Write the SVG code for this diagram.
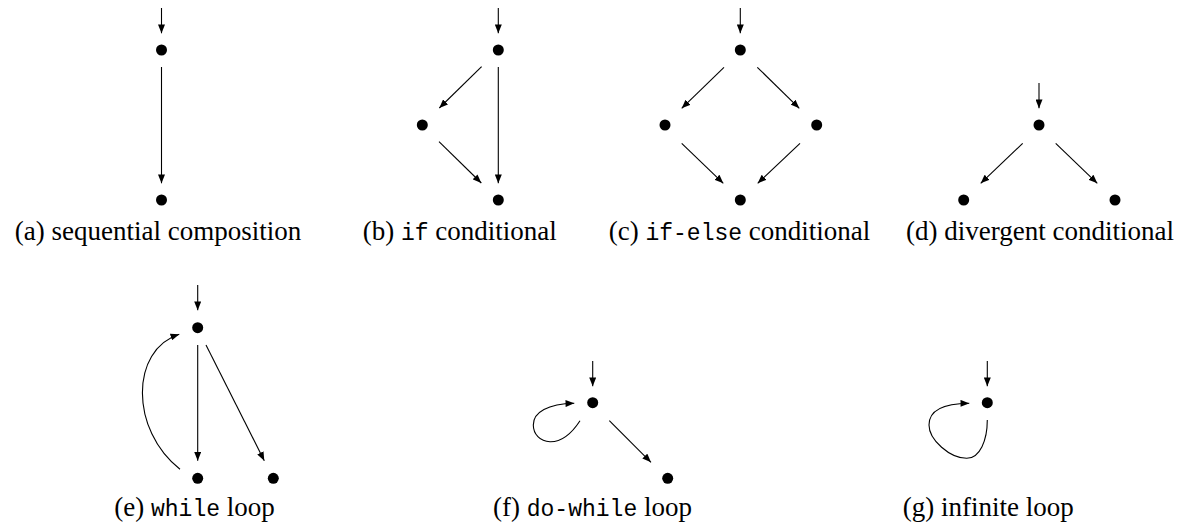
<svg xmlns="http://www.w3.org/2000/svg" width="1190" height="526" viewBox="0 0 1190 526">
<style>
.n{fill:#000}
.e{stroke:#000;stroke-width:1.1;fill:none;marker-end:url(#ah)}
text{font-family:'Liberation Serif','Times New Roman',serif;font-size:27px;fill:#000}
tspan.tt{font-family:'Liberation Mono','Courier New',monospace;font-size:23px}
</style>
<defs>
<marker id="ah" viewBox="0 0 10 8" refX="10" refY="4" markerWidth="9" markerHeight="7" markerUnits="userSpaceOnUse" orient="auto">
<path d="M0,0 L10,4 L0,8 Z" fill="#000"/>
</marker>
</defs>
<rect width="1190" height="526" fill="#fff"/>
<g id="connectors">
<line class="e" x1="161.5" y1="8" x2="161.5" y2="33.3"/>
<line class="e" x1="161.5" y1="67" x2="161.5" y2="183.3"/>
<line class="e" x1="498.3" y1="8" x2="498.3" y2="33.3"/>
<line class="e" x1="481.6" y1="66.7" x2="439.3" y2="108"/>
<line class="e" x1="439" y1="141.7" x2="481.3" y2="183"/>
<line class="e" x1="498.3" y1="67" x2="498.3" y2="183.3"/>
<line class="e" x1="740.3" y1="8" x2="740.3" y2="33.3"/>
<line class="e" x1="724" y1="67.3" x2="681.7" y2="108.3"/>
<line class="e" x1="757.3" y1="67.3" x2="799.3" y2="108.3"/>
<line class="e" x1="681.7" y1="143.3" x2="723.3" y2="183.3"/>
<line class="e" x1="800" y1="143.3" x2="757.7" y2="183.3"/>
<line class="e" x1="1039" y1="83" x2="1039" y2="108.3"/>
<line class="e" x1="1022.7" y1="143.3" x2="980.7" y2="183.3"/>
<line class="e" x1="1055.7" y1="143.3" x2="1097.3" y2="183.3"/>
<line class="e" x1="197.7" y1="285" x2="197.7" y2="310.3"/>
<line class="e" x1="197.7" y1="345" x2="197.7" y2="460.7"/>
<line class="e" x1="206" y1="345" x2="264.3" y2="460.7"/>
<path class="e" d="M180,469.3 C130,430 130,350 179.3,334.3"/>
<line class="e" x1="592.7" y1="361" x2="592.7" y2="386.3"/>
<line class="e" x1="609.3" y1="420.7" x2="651" y2="462.3"/>
<path class="e" d="M580,420.7 C572,433 562,442 550,441.7 C540,441.5 533.3,434 533.3,425 C533.3,412 548,404 574.3,403.3"/>
<line class="e" x1="987.3" y1="361" x2="987.3" y2="386.3"/>
<path class="e" d="M987.3,420 C987.3,440 980,458.3 966.7,458.3 C950,458.3 929,440 929,425 C929,410 945,403.5 969.3,403.3"/>
</g>
<g id="a">
<circle class="n" cx="161.5" cy="50" r="5.5"/>
<circle class="n" cx="161.5" cy="200" r="5.5"/>
<text x="158" y="240" text-anchor="middle">(a) sequential composition</text>
</g>
<g id="b">
<circle class="n" cx="498.3" cy="50" r="5.5"/>
<circle class="n" cx="422.3" cy="125" r="5.5"/>
<circle class="n" cx="498.3" cy="200" r="5.5"/>
<text x="459.7" y="240" text-anchor="middle">(b) <tspan class="tt">if</tspan> conditional</text>
</g>
<g id="c">
<circle class="n" cx="740.3" cy="50" r="5.5"/>
<circle class="n" cx="665" cy="125" r="5.5"/>
<circle class="n" cx="816.7" cy="125" r="5.5"/>
<circle class="n" cx="740.3" cy="200" r="5.5"/>
<text x="739.5" y="240" text-anchor="middle">(c) <tspan class="tt">if-else</tspan> conditional</text>
</g>
<g id="d">
<circle class="n" cx="1039" cy="125" r="5.5"/>
<circle class="n" cx="963.7" cy="200" r="5.5"/>
<circle class="n" cx="1115" cy="200" r="5.5"/>
<text x="1040" y="240" text-anchor="middle">(d) divergent conditional</text>
</g>
<g id="e">
<circle class="n" cx="197.7" cy="327.7" r="5.5"/>
<circle class="n" cx="197.7" cy="478.3" r="5.5"/>
<circle class="n" cx="273.3" cy="478.3" r="5.5"/>
<text x="194.5" y="516" text-anchor="middle">(e) <tspan class="tt">while</tspan> loop</text>
</g>
<g id="f">
<circle class="n" cx="592.7" cy="402.7" r="5.5"/>
<circle class="n" cx="667.7" cy="478.3" r="5.5"/>
<text x="592.5" y="516" text-anchor="middle">(f) <tspan class="tt">do-while</tspan> loop</text>
</g>
<g id="g">
<circle class="n" cx="987.3" cy="402.7" r="5.5"/>
<text x="988.3" y="516" text-anchor="middle">(g) infinite loop</text>
</g>
</svg>
